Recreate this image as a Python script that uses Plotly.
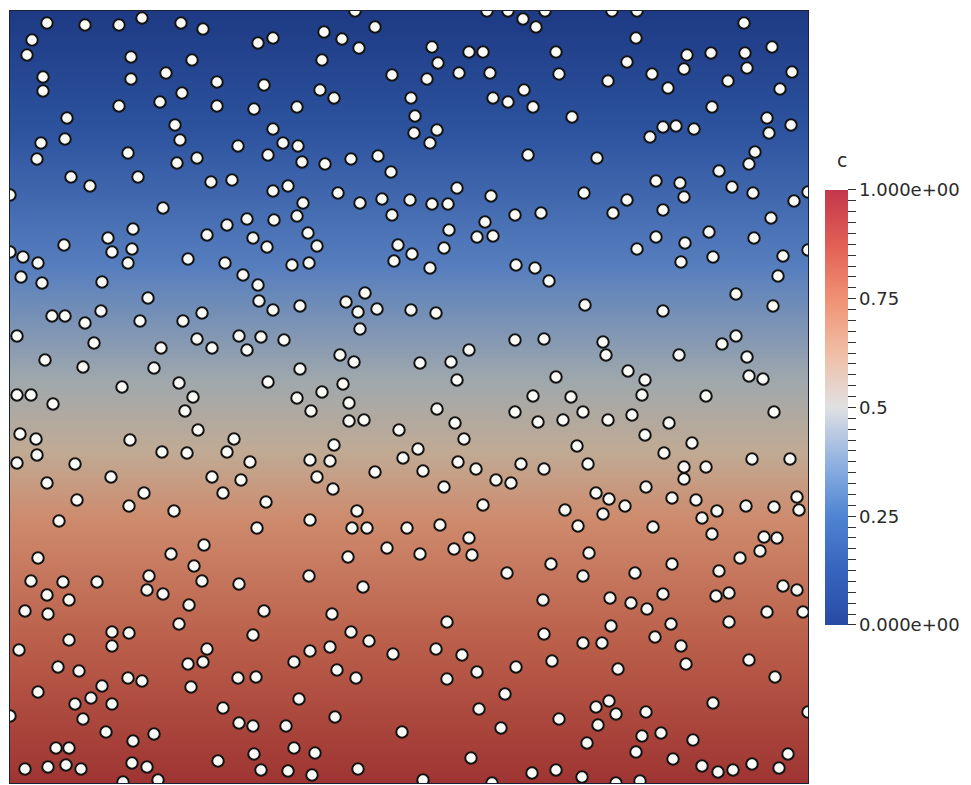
import numpy as np
import plotly.graph_objects as go

# Domain (units): width 798, height 772; concentration c = 0 at the top, 1 at the bottom
domain_w = 798
domain_h = 772
c_top = 0.0
c_bottom = 1.0

# Obstacle (circle) centres
circle_x = [
    37, 75, 109, 132, 171, 193, 22, 17, 248, 263, 121, 182, 33, 33, 121, 156, 207, 254, 172, 109,
    150, 207, 244, 57, 165, 263, 31, 55, 170, 228, 118, 27, 167, 187, 258, 61, 80, 128, 201, 222,
    263, 0, 153, 237, 264, 217, 123, 197, 98, 243, 54, 102, 122, 257, 0, 13, 28, 118, 178, 215,
    345, 477, 498, 535, 365, 314, 332, 349, 312, 422, 428, 459, 473, 513, 526, 382, 417, 449, 480, 310,
    324, 287, 401, 405, 483, 498, 514, 523, 404, 427, 420, 273, 288, 292, 315, 341, 368, 381, 518, 278,
    328, 293, 287, 350, 372, 400, 422, 438, 447, 481, 382, 505, 531, 475, 439, 467, 483, 298, 307, 388,
    402, 434, 282, 299, 384, 420, 506, 525,
    602, 627, 734, 626, 546, 677, 701, 735, 762, 617, 674, 737, 549, 598, 642, 658, 718, 770, 782, 702,
    562, 653, 666, 684, 640, 757, 759, 781, 587, 745, 739, 709, 646, 670, 674, 722, 743, 574, 617, 603,
    653, 784, 798, 761, 646, 699, 675, 744, 627, 671, 703, 773, 798,
    11, 32, 92, 233, 248, 249, 263, 138, 42, 55, 75, 91, 130, 173, 192, 7, 84, 151, 187, 202,
    229, 251, 237, 35, 73, 144, 112, 169, 258, 7, 21, 43, 183, 175, 10, 26, 27, 120, 188, 224,
    152, 177, 217, 7, 65, 240, 37, 101, 202, 231, 134, 213, 67, 119, 256, 164, 49, 247,
    290, 336, 355, 348, 367, 401, 426, 350, 274, 505, 534, 459, 330, 344, 410, 441, 290, 447, 333, 312,
    287, 301, 339, 427, 523, 505, 339, 354, 389, 445, 528, 454, 324, 408, 300, 320, 393, 448, 466, 511,
    534, 307, 365, 413, 486, 501, 323, 434, 473, 347, 300, 342, 357, 397, 430,
    539, 768, 575, 653, 726, 763, 593, 596, 669, 712, 726, 737, 546, 618, 635, 739, 753, 561, 632, 696,
    573, 553, 598, 622, 659, 764, 635, 567, 682, 654, 578, 674, 696, 742, 780, 674, 636, 586, 599, 615,
    662, 686, 707, 736, 764, 787, 789, 555, 593, 692, 568, 643,
    28, 194, 161, 184, 192, 21, 53, 87, 139, 137, 153, 229, 37, 59, 15, 38, 179, 254, 169, 102,
    119, 102, 59, 243, 9, 197, 178, 193, 48, 69, 118, 132, 228, 246, 92, 181, 28, 81, 65, 102,
    213, 0, 73, 229, 243, 96, 144, 123, 46, 59, 244, 208, 15, 38, 56, 71, 122, 137, 251, 113, 148,
    459, 338, 377, 410, 444, 462, 299, 497, 353, 322, 437, 341, 359, 300, 320, 383, 426, 452, 284, 327,
    346, 437, 467, 506, 495, 289, 469, 325, 276, 392, 491, 284, 305, 461, 278, 302, 348, 413, 522, 482,
    702, 754, 767, 750, 730, 579, 541, 573, 625, 662, 709, 773, 787, 533, 600, 621, 637, 653, 706, 719,
    757, 793, 601, 661, 719, 534, 573, 592, 645, 671, 542, 608, 676, 739, 765, 703, 586, 599, 606, 636,
    549, 588, 632, 651, 683, 577, 626, 663, 692, 708, 723, 742, 769, 778, 546, 572, 606, 630, 798,
]
circle_y = [
    760, 758, 758, 765, 760, 754, 743, 728, 740, 745, 726, 723, 706, 692, 704, 710, 701, 698, 690, 677,
    681, 677, 674, 665, 658, 654, 640, 644, 643, 637, 630, 624, 620, 625, 628, 606, 597, 606, 601, 603,
    592, 588, 575, 564, 563, 558, 554, 548, 545, 545, 538, 531, 534, 536, 531, 526, 520, 520, 524, 520,
    772, 772, 772, 772, 756, 751, 744, 735, 723, 736, 720, 731, 731, 764, 756, 708, 704, 710, 710, 693,
    685, 676, 685, 667, 685, 681, 693, 676, 650, 653, 640, 640, 637, 621, 619, 624, 627, 611, 628, 597,
    590, 580, 567, 580, 584, 583, 579, 579, 595, 587, 568, 568, 570, 561, 553, 546, 547, 550, 537, 538,
    529, 535, 518, 520, 522, 515, 518, 515,
    772, 772, 760, 745, 731, 728, 730, 730, 736, 721, 714, 715, 709, 702, 709, 695, 702, 694, 711, 676,
    666, 656, 657, 654, 646, 665, 650, 658, 625, 631, 619, 612, 602, 600, 586, 596, 590, 590, 583, 570,
    573, 582, 591, 565, 546, 551, 540, 545, 534, 521, 526, 527, 533,
    506, 500, 501, 508, 498, 482, 473, 485, 467, 467, 460, 472, 462, 462, 470, 447, 440, 435, 444, 435,
    447, 446, 433, 423, 416, 415, 396, 400, 401, 388, 388, 379, 386, 372, 349, 344, 328, 343, 353, 344,
    331, 330, 331, 320, 319, 321, 300, 306, 306, 303, 290, 290, 283, 277, 281, 272, 262, 255,
    477, 481, 490, 471, 474, 473, 470, 454, 443, 443, 444, 433, 428, 421, 420, 421, 414, 403, 399, 391,
    385, 372, 380, 374, 387, 371, 362, 363, 353, 360, 361, 344, 338, 334, 323, 322, 325, 321, 314, 319,
    314, 306, 311, 312, 303, 300, 294, 296, 278, 272, 263, 255, 255, 255, 258,
    502, 507, 478, 472, 489, 477, 441, 428, 428, 439, 447, 426, 406, 412, 403, 407, 404, 386, 388, 387,
    371, 363, 363, 368, 360, 371, 348, 337, 340, 330, 319, 316, 316, 324, 324, 304, 296, 290, 284, 277,
    285, 283, 272, 277, 276, 286, 273, 273, 269, 265, 257, 256,
    225, 238, 229, 217, 202, 202, 201, 201, 207, 193, 189, 199, 188, 183, 172, 169, 178, 172, 159, 151,
    150, 137, 143, 148, 133, 134, 119, 121, 116, 112, 105, 102, 105, 106, 97, 96, 91, 85, 79, 79,
    75, 67, 64, 60, 57, 51, 49, 42, 35, 35, 29, 22, 14, 16, 18, 14, 20, 16, 13, 1, 3,
    245, 226, 235, 229, 234, 228, 207, 210, 196, 169, 161, 151, 142, 132, 136, 129, 134, 128, 121, 113,
    105, 104, 111, 116, 89, 84, 74, 66, 57, 51, 55, 35, 30, 25, 12, 8, 14, 3, 10, 0,
    249, 246, 245, 232, 225, 230, 219, 207, 210, 219, 212, 197, 193, 183, 185, 180, 174, 189, 187, 190,
    171, 171, 157, 159, 161, 149, 140, 140, 146, 137, 122, 114, 119, 123, 106, 80, 76, 82, 69, 71,
    64, 58, 47, 50, 43, 40, 31, 24, 17, 11, 13, 19, 15, 29, 13, 6, 0, 2, 71,
]

# Colour scale of the field (as it appears in the picture) and of the colour bar
field_colorscale = [
    [0.00, "rgb(30,58,132)"],
    [0.15, "rgb(44,82,158)"],
    [0.33, "rgb(86,126,190)"],
    [0.48, "rgb(160,168,172)"],
    [0.57, "rgb(192,170,148)"],
    [0.66, "rgb(206,138,108)"],
    [0.82, "rgb(186,94,74)"],
    [1.00, "rgb(158,52,50)"],
]
bar_colorscale = [
    [0.000, "rgb(40,75,165)"],
    [0.125, "rgb(55,100,190)"],
    [0.250, "rgb(78,132,210)"],
    [0.375, "rgb(145,178,226)"],
    [0.500, "rgb(224,224,226)"],
    [0.625, "rgb(240,190,165)"],
    [0.750, "rgb(240,145,115)"],
    [0.875, "rgb(225,95,85)"],
    [1.000, "rgb(196,55,75)"],
]

cbar_title = "c"
cbar_major_vals = [0.0, 0.25, 0.5, 0.75, 1.0]
cbar_major_text = ["0.000e+00", "0.25", "0.5", "0.75", "1.000e+00"]
cbar_minor_step = 0.025

# colour-bar tick list: minor ticks without labels, major ticks labelled
tick_vals = [round(v, 4) for v in np.arange(0.0, 1.0 + 1e-9, cbar_minor_step)]
label_of = {round(v, 4): t for v, t in zip(cbar_major_vals, cbar_major_text)}
tick_text = [label_of.get(v, "") for v in tick_vals]

fig = go.Figure()

# background concentration field
fig.add_trace(go.Heatmap(
    x=[0, domain_w],
    y=[0, domain_h],
    z=[[c_bottom, c_bottom], [c_top, c_top]],
    zmin=0, zmax=1,
    zsmooth="best",
    colorscale=field_colorscale,
    showscale=False,
    hoverinfo="skip",
))

# obstacles
fig.add_trace(go.Scatter(
    x=circle_x, y=circle_y,
    mode="markers",
    marker=dict(symbol="circle", size=11.5, color="#fbfbf8",
                line=dict(color="#141414", width=2)),
    showlegend=False,
    hoverinfo="skip",
))

# colour bar
fig.add_trace(go.Scatter(
    x=[None], y=[None],
    mode="markers",
    marker=dict(
        color=[0.5], cmin=0, cmax=1, colorscale=bar_colorscale, showscale=True, size=0,
        colorbar=dict(
            x=1.0213, xanchor="left", xref="paper",
            y=0.4864, yanchor="middle",
            len=0.5635, lenmode="fraction",
            thickness=23, thicknessmode="pixels",
            xpad=0, ypad=0, outlinewidth=0,
            ticks="outside", ticklen=8, tickwidth=1, tickcolor="#333333",
            tickvals=tick_vals, ticktext=tick_text,
            tickfont=dict(family="DejaVu Sans", size=18, color="#2a2a2a"),
        ),
    ),
    showlegend=False,
    hoverinfo="skip",
))

# colour-bar title
fig.add_annotation(
    text=cbar_title, xref="paper", yref="paper",
    x=1.0426, y=0.807, xanchor="center", yanchor="middle",
    showarrow=False,
    font=dict(family="DejaVu Sans", size=19, color="#2a2a2a"),
)

axis_style = dict(showgrid=False, zeroline=False, showticklabels=False, ticks="",
                  showline=True, mirror=True, linecolor="#1b2238", linewidth=1)

fig.update_layout(
    width=963, height=777, autosize=False,
    margin=dict(l=2, r=163, t=3, b=2, pad=0),
    paper_bgcolor="white", plot_bgcolor="white",
    xaxis=dict(range=[0, domain_w], **axis_style),
    yaxis=dict(range=[0, domain_h], **axis_style),
)

fig.write_html("out.html")
